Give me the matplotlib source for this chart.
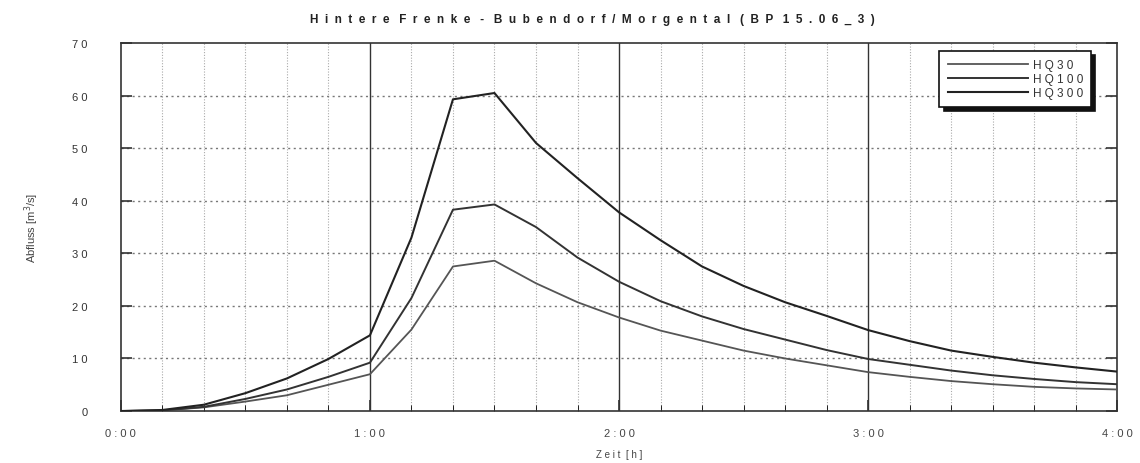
import numpy as np
import matplotlib.pyplot as plt
from matplotlib.ticker import MultipleLocator

# time in minutes, every 10 min
zeit = list(range(0, 250, 10))
hq30 = [0, 0.1, 0.7, 1.8, 3.0, 5.0, 7.0, 15.5, 27.5, 28.6, 24.3, 20.7, 17.8,
        15.3, 13.4, 11.5, 10.0, 8.7, 7.4, 6.5, 5.7, 5.1, 4.6, 4.3, 4.1]
hq100 = [0, 0.1, 0.8, 2.3, 4.1, 6.5, 9.2, 21.5, 38.3, 39.3, 35.0, 29.2, 24.6,
         20.9, 18.0, 15.6, 13.6, 11.6, 9.9, 8.8, 7.7, 6.8, 6.1, 5.5, 5.1]
hq300 = [0, 0.2, 1.2, 3.4, 6.2, 9.9, 14.4, 33.0, 59.3, 60.5, 51.0, 44.3, 37.8,
         32.5, 27.5, 23.8, 20.7, 18.1, 15.4, 13.3, 11.5, 10.3, 9.2, 8.3, 7.5]
x_labels = ["0 : 0 0", "1 : 0 0", "2 : 0 0", "3 : 0 0", "4 : 0 0"]
y_ticks = [0, 10, 20, 30, 40, 50, 60, 70]
title = "Hintere Frenke - Bubendorf/Morgental (BP 15.06_3)"

def spaced(s, sep=" "):
    return sep.join(s)

plt.rcParams["font.family"] = ["Liberation Sans", "DejaVu Sans"]

fig = plt.figure(figsize=(11.4, 4.64), dpi=100)
ax = fig.add_axes([0.106, 0.112, 0.874, 0.793])

# grid
for m in range(10, 240, 10):
    if m % 60 == 0:
        ax.axvline(m, color="#333333", lw=1.0, zorder=1)
    else:
        ax.axvline(m, color="#aaaaaa", lw=0.8, ls=(0, (1, 1.5)), zorder=1)
for v in y_ticks[1:-1]:
    ax.axhline(v, color="#777777", lw=1.0, ls=(0, (1.5, 2.5)), zorder=1)

ax.plot(zeit, hq30, color="#555555", lw=1.3, label=spaced("HQ30"), zorder=3)
ax.plot(zeit, hq100, color="#333333", lw=1.4, label=spaced("HQ100"), zorder=3)
ax.plot(zeit, hq300, color="#222222", lw=1.5, label=spaced("HQ300"), zorder=3)

ax.set_xlim(0, 240)
ax.set_ylim(0, 70)
ax.set_xticks([0, 60, 120, 180, 240])
ax.set_xticklabels(x_labels)
ax.xaxis.set_minor_locator(MultipleLocator(10))
ax.set_yticks(y_ticks)
ax.set_yticklabels([spaced(str(v)) for v in y_ticks])
ax.tick_params(axis="both", direction="in", labelsize=8, colors="#333333",
               length=8, width=1.2)
ax.tick_params(axis="y", right=True, pad=24)
ax.tick_params(axis="x", which="minor", direction="in", length=4, bottom=True)
ax.tick_params(axis="x", pad=12)
for lab in ax.get_xticklabels():
    lab.set_color("#444444")
for sp in ax.spines.values():
    sp.set_color("#333333")
    sp.set_linewidth(1.2)

ax.set_xlabel("Z e i t  [ h ]", fontsize=7, color="#444444", labelpad=8)
ax.set_ylabel("Abfluss [m$^3$/s]", fontsize=8, color="#444444")
ax.yaxis.set_label_coords(-0.08, 0.5)

fig.suptitle("   ".join(spaced(w, "  ") for w in title.split(" ")),
             x=0.52, y=0.97, fontsize=8.5, fontweight="bold", color="#222222")

leg = ax.legend(loc="upper right", bbox_to_anchor=(0.974, 0.978), fontsize=8.5,
                frameon=True, fancybox=False,
                shadow={"color": "#111111", "alpha": 1.0, "ox": 3, "oy": -3},
                handlelength=6.8, borderpad=0.7, labelspacing=0.15,
                handletextpad=0.4, borderaxespad=0)
leg.get_frame().set_edgecolor("#111111")
leg.get_frame().set_linewidth(1.2)
for t in leg.get_texts():
    t.set_color("#333333")

fig.savefig("out.png", dpi=100)
